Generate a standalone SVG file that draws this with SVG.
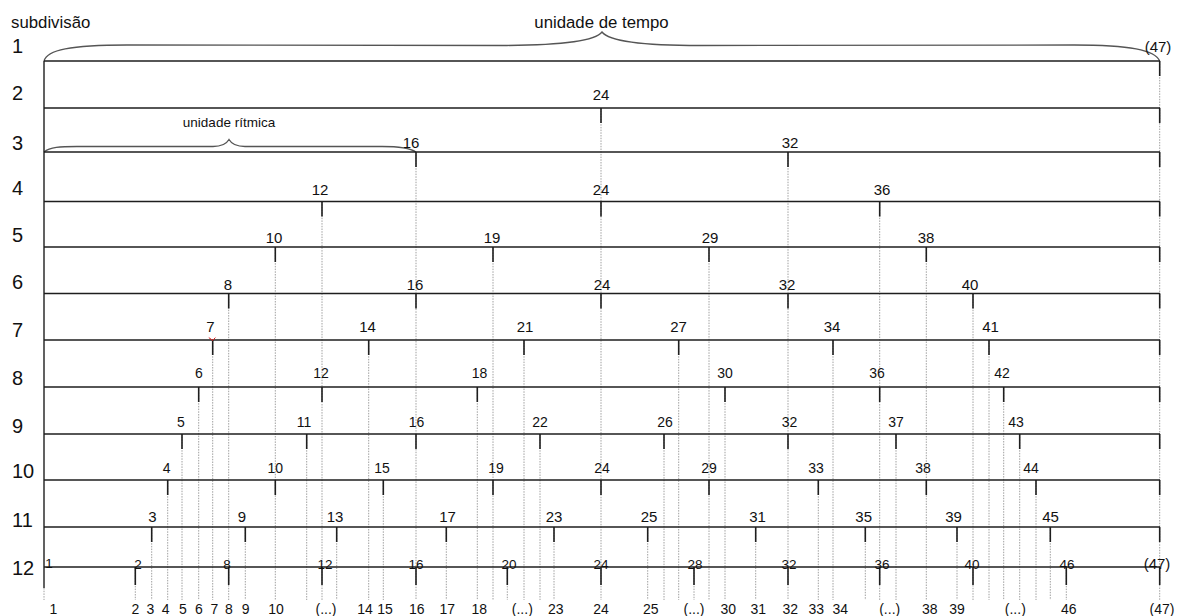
<svg xmlns="http://www.w3.org/2000/svg" width="1177" height="616" viewBox="0 0 1177 616">
<style>
.row{stroke:#1e1e1e;stroke-width:1.4;fill:none}
.tick{stroke:#1e1e1e;stroke-width:1.6;fill:none}
.guide{stroke:#a0a0a0;stroke-width:1;stroke-dasharray:1.5 1.2;fill:none}
.brace{stroke:#555;stroke-width:1.3;fill:none}
text{font-family:"Liberation Sans",Arial,sans-serif;fill:#111}
.rn{font-size:20px}
.lb{font-size:15px;text-anchor:middle}
.lb2{font-size:14px;text-anchor:middle}
.lb3{font-size:13.5px;text-anchor:middle}
.bt{font-size:14px;text-anchor:middle}
.cap{font-size:16.8px}
.cap2{font-size:13.5px;text-anchor:middle}
</style>
<rect width="1177" height="616" fill="#fff"/>

<g id="connectors">
<path class="guide" d="M601,108V600 M416,152V600 M788,152V600 M322,201.5V600 M879.7,201.5V600 M275.3,247V600 M493,247V600 M709,247V600 M926.3,247V600 M228.7,293.5V600 M973,293.5V600 M212.7,340V600 M368.7,340V600 M524,340V600 M678.7,340V600 M833,340V600 M989,340V600 M198.7,387V600 M477.3,387V600 M725,387V600 M1003.7,387V600 M182,434V600 M306.7,434V600 M540,434V600 M664,434V600 M896,434V600 M1019.7,434V600 M167.7,480V600 M383.3,480V600 M818.3,480V600 M1036,480V600 M151.7,527V600 M245.3,527V600 M336.7,527V600 M446.3,527V600 M554,527V600 M647.7,527V600 M755.7,527V600 M865.3,527V600 M957,527V600 M1050.3,527V600 M135.3,567V600 M507.3,567V600 M694,567V600 M1066.3,567V600 M1159.7,61V600 M44,588V600"/>
</g>

<g id="braces">
<path class="brace" d="M44,61 C47,50 70,45 127,45 L507,45.5 C570,45 596,40 602,32 C608,40 634,45.5 700,45.5 L1074,45 C1130,45 1155,50 1159.7,61"/>
<path class="brace" d="M44,152 C50,147 60,146.5 77,146.5 L213,146.5 C222,146.5 227,143 229,139.5 C231,143 236,146.5 245,146.5 L382,146.5 C400,146.5 410,148 416,152"/>
<text class="cap" x="601.5" y="28" text-anchor="middle">unidade de tempo</text>
<text class="cap2" x="229" y="126.5">unidade rítmica</text>
<text class="cap" x="11" y="28">subdivisão</text>
<text class="lb" x="1158" y="51.5">(47)</text>
</g>

<g id="frame">
<path class="row" d="M44,61V588"/>
</g>

<g id="row1">
<path class="row" d="M44,61H1160"/>
<path class="tick" d="M1159.7,61v15"/>
<text class="rn" x="12" y="53">1</text>
</g>

<g id="row2">
<path class="row" d="M44,108H1160"/>
<path class="tick" d="M601,108v15 M1159.7,108v15"/>
<text class="rn" x="12" y="100">2</text>
<text class="lb" x="601" y="100">24</text>
</g>

<g id="row3">
<path class="row" d="M44,152H1160"/>
<path class="tick" d="M416,152v15 M788,152v15 M1159.7,152v15"/>
<text class="rn" x="12" y="150">3</text>
<text class="lb" x="411" y="148">16</text>
<text class="lb" x="790" y="148">32</text>
</g>

<g id="row4">
<path class="row" d="M44,201.5H1160"/>
<path class="tick" d="M322,201.5v15 M601,201.5v15 M879.7,201.5v15 M1159.7,201.5v15"/>
<text class="rn" x="12" y="195">4</text>
<text class="lb" x="320" y="195">12</text>
<text class="lb" x="601" y="195">24</text>
<text class="lb" x="882" y="195">36</text>
</g>

<g id="row5">
<path class="row" d="M44,247H1160"/>
<path class="tick" d="M275.3,247v15 M493,247v15 M709,247v15 M926.3,247v15 M1159.7,247v15"/>
<text class="rn" x="12" y="242">5</text>
<text class="lb" x="274" y="243">10</text>
<text class="lb" x="492" y="243">19</text>
<text class="lb" x="710" y="243">29</text>
<text class="lb" x="926" y="243">38</text>
</g>

<g id="row6">
<path class="row" d="M44,293.5H1160"/>
<path class="tick" d="M228.7,293.5v15 M416,293.5v15 M601,293.5v15 M788,293.5v15 M973,293.5v15 M1159.7,293.5v15"/>
<text class="rn" x="12" y="289">6</text>
<text class="lb" x="228" y="290">8</text>
<text class="lb" x="415" y="290">16</text>
<text class="lb" x="602" y="290">24</text>
<text class="lb" x="787" y="290">32</text>
<text class="lb" x="970" y="290">40</text>
</g>

<g id="row7">
<path class="row" d="M44,340H1160"/>
<path class="tick" d="M212.7,340v15 M368.7,340v15 M524,340v15 M678.7,340v15 M833,340v15 M989,340v15 M1159.7,340v15"/>
<path d="M208.8,337.6 L212.7,340.4 L215.4,337.6" fill="none" stroke="#e02020" stroke-width="1"/>
<text class="rn" x="12" y="337">7</text>
<text class="lb" x="210.5" y="332">7</text>
<text class="lb" x="367.5" y="332">14</text>
<text class="lb" x="525" y="332">21</text>
<text class="lb" x="678.5" y="332">27</text>
<text class="lb" x="832" y="332">34</text>
<text class="lb" x="990.5" y="332">41</text>
</g>

<g id="row8">
<path class="row" d="M44,387H1160"/>
<path class="tick" d="M198.7,387v15 M322,387v15 M477.3,387v15 M725,387v15 M879.7,387v15 M1003.7,387v15 M1159.7,387v15"/>
<text class="rn" x="12" y="385">8</text>
<text class="lb2" x="199" y="378">6</text>
<text class="lb2" x="321" y="378">12</text>
<text class="lb2" x="479.5" y="378">18</text>
<text class="lb2" x="725" y="378">30</text>
<text class="lb2" x="877" y="378">36</text>
<text class="lb2" x="1002" y="378">42</text>
</g>

<g id="row9">
<path class="row" d="M44,434H1160"/>
<path class="tick" d="M182,434v15 M306.7,434v15 M416,434v15 M540,434v15 M664,434v15 M788,434v15 M896,434v15 M1019.7,434v15 M1159.7,434v15"/>
<text class="rn" x="12" y="433">9</text>
<text class="lb2" x="181" y="427">5</text>
<text class="lb2" x="304" y="427">11</text>
<text class="lb2" x="416.5" y="427">16</text>
<text class="lb2" x="540" y="427">22</text>
<text class="lb2" x="665" y="427">26</text>
<text class="lb2" x="789.5" y="427">32</text>
<text class="lb2" x="896" y="427">37</text>
<text class="lb2" x="1016" y="427">43</text>
</g>

<g id="row10">
<path class="row" d="M44,480H1160"/>
<path class="tick" d="M167.7,480v15 M275.3,480v15 M383.3,480v15 M493,480v15 M601,480v15 M709,480v15 M818.3,480v15 M926.3,480v15 M1036,480v15 M1159.7,480v15"/>
<text class="rn" x="12" y="478">10</text>
<text class="lb2" x="166.7" y="473">4</text>
<text class="lb2" x="275.3" y="473">10</text>
<text class="lb2" x="382" y="473">15</text>
<text class="lb2" x="496" y="473">19</text>
<text class="lb2" x="602" y="473">24</text>
<text class="lb2" x="709" y="473">29</text>
<text class="lb2" x="816" y="473">33</text>
<text class="lb2" x="923" y="473">38</text>
<text class="lb2" x="1031" y="473">44</text>
</g>

<g id="row11">
<path class="row" d="M44,527H1160"/>
<path class="tick" d="M151.7,527v15 M245.3,527v15 M336.7,527v15 M446.3,527v15 M554,527v15 M647.7,527v15 M755.7,527v15 M865.3,527v15 M957,527v15 M1050.3,527v15 M1159.7,527v15"/>
<text class="rn" x="12" y="527">11</text>
<text class="lb" x="152.5" y="522">3</text>
<text class="lb" x="242" y="522">9</text>
<text class="lb" x="335" y="522">13</text>
<text class="lb" x="447.5" y="522">17</text>
<text class="lb" x="554" y="522">23</text>
<text class="lb" x="649" y="522">25</text>
<text class="lb" x="757.5" y="522">31</text>
<text class="lb" x="863.7" y="522">35</text>
<text class="lb" x="953.5" y="522">39</text>
<text class="lb" x="1050.5" y="522">45</text>
</g>

<g id="row12">
<path class="row" d="M44,567H1160"/>
<path class="tick" d="M135.3,567v18 M228.7,567v18 M322,567v18 M416,567v18 M507.3,567v18 M601,567v18 M694,567v18 M788,567v18 M879.7,567v18 M973,567v18 M1066.3,567v18 M1159.7,567v18"/>
<text class="rn" x="12" y="575">12</text>
<text class="lb3" x="49" y="568">1</text>
<text class="lb3" x="138" y="569">2</text>
<text class="lb3" x="227" y="569">8</text>
<text class="lb3" x="325" y="569">12</text>
<text class="lb3" x="416" y="569">16</text>
<text class="lb3" x="509" y="569">20</text>
<text class="lb3" x="601" y="569">24</text>
<text class="lb3" x="695" y="569">28</text>
<text class="lb3" x="789" y="569">32</text>
<text class="lb3" x="882" y="569">36</text>
<text class="lb3" x="972" y="569">40</text>
<text class="lb3" x="1067" y="569">46</text>
<text class="lb" x="1157" y="569">(47)</text>
</g>

<g id="bottom-labels">
<text class="bt" x="53.3" y="614">1</text>
<text class="bt" x="135.3" y="614">2</text>
<text class="bt" x="150.3" y="614">3</text>
<text class="bt" x="165.7" y="614">4</text>
<text class="bt" x="183" y="614">5</text>
<text class="bt" x="199" y="614">6</text>
<text class="bt" x="214.3" y="614">7</text>
<text class="bt" x="229" y="614">8</text>
<text class="bt" x="245.7" y="614">9</text>
<text class="bt" x="276" y="614">10</text>
<text class="bt" x="326" y="614">(...)</text>
<text class="bt" x="365" y="614">14</text>
<text class="bt" x="385" y="614">15</text>
<text class="bt" x="416.7" y="614">16</text>
<text class="bt" x="447.3" y="614">17</text>
<text class="bt" x="479.3" y="614">18</text>
<text class="bt" x="522.3" y="614">(...)</text>
<text class="bt" x="555.7" y="614">23</text>
<text class="bt" x="601" y="614">24</text>
<text class="bt" x="650.7" y="614">25</text>
<text class="bt" x="694" y="614">(...)</text>
<text class="bt" x="728.3" y="614">30</text>
<text class="bt" x="758.3" y="614">31</text>
<text class="bt" x="790.3" y="614">32</text>
<text class="bt" x="816.3" y="614">33</text>
<text class="bt" x="840.3" y="614">34</text>
<text class="bt" x="889.7" y="614">(...)</text>
<text class="bt" x="929.7" y="614">38</text>
<text class="bt" x="957" y="614">39</text>
<text class="bt" x="1015.3" y="614">(...)</text>
<text class="bt" x="1068.7" y="614">46</text>
<text class="bt" x="1162" y="614">(47)</text>
</g>
</svg>
